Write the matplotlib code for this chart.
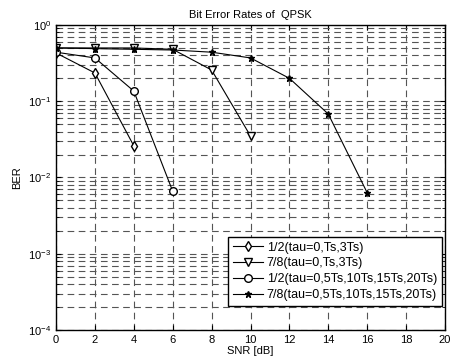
import matplotlib
matplotlib.use("Agg")
import matplotlib.pyplot as plt
from matplotlib.ticker import LogLocator, NullFormatter, MultipleLocator

plt.rcParams["font.family"] = ["Liberation Sans", "DejaVu Sans"]

# data
snr_a = [0, 2, 4]
ber_a = [0.43, 0.235, 0.026]
snr_b = [0, 2, 4, 6, 8, 10]
ber_b = [0.5, 0.5, 0.5, 0.48, 0.257, 0.035]
snr_c = [0, 2, 4, 6]
ber_c = [0.44, 0.37, 0.136, 0.0066]
snr_d = [0, 2, 4, 6, 8, 10, 12, 14, 16]
ber_d = [0.5, 0.49, 0.48, 0.47, 0.44, 0.37, 0.2, 0.068, 0.0063]

labels = [
    "1/2(tau=0,Ts,3Ts)",
    "7/8(tau=0,Ts,3Ts)",
    "1/2(tau=0,5Ts,10Ts,15Ts,20Ts)",
    "7/8(tau=0,5Ts,10Ts,15Ts,20Ts)",
]

fig = plt.figure(figsize=(4.51, 3.63), dpi=100)
ax = fig.add_axes([56 / 451, 1 - 330 / 363, 389 / 451, 305 / 363])

lw = 0.8
ax.semilogy(snr_a, ber_a, "k-", marker="d", mfc="white", mec="k", ms=5, lw=lw, label=labels[0])
ax.semilogy(snr_b, ber_b, "k-", marker="v", mfc="white", mec="k", ms=6, lw=lw, label=labels[1])
ax.semilogy(snr_c, ber_c, "k-", marker="o", mfc="white", mec="k", ms=5.5, lw=lw, label=labels[2])
ax.semilogy(snr_d, ber_d, "k-", marker="*", mfc="k", mec="k", ms=4.5, lw=lw, label=labels[3])

ax.set_xlim(0, 20)
ax.set_ylim(1e-4, 1)
ax.xaxis.set_major_locator(MultipleLocator(2))
ax.yaxis.set_major_locator(LogLocator(base=10, numticks=10))
ax.yaxis.set_minor_locator(LogLocator(base=10, subs=range(2, 10), numticks=20))
ax.yaxis.set_minor_formatter(NullFormatter())

ax.grid(True, which="major", axis="both", color="#555555", ls=(0, (6, 4)), lw=0.8)
ax.grid(True, which="minor", axis="y", color="#555555", ls=(0, (6, 4)), lw=0.8)
ax.tick_params(which="both", direction="in", top=True, right=True, labelsize=8)
for s in ax.spines.values():
    s.set_linewidth(1.0)

ax.set_xlabel("SNR [dB]", fontsize=8, labelpad=1)
ax.set_ylabel("BER", fontsize=8)
ax.set_title("Bit Error Rates of  QPSK", fontsize=8, pad=5)

leg = ax.legend(loc="lower right", bbox_to_anchor=(0.992, 0.079), fontsize=9,
                frameon=True, fancybox=False, edgecolor="k", framealpha=1,
                borderaxespad=0, handlelength=2.4, handletextpad=0.3,
                labelspacing=0.3, borderpad=0.4)
leg.get_frame().set_linewidth(1.0)

fig.savefig("out.png", dpi=100)
